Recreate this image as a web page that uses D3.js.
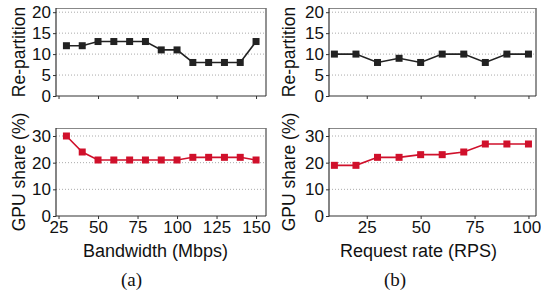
<!DOCTYPE html>
<html><head><meta charset="utf-8">
<script src="https://cdn.jsdelivr.net/npm/d3@7"></script>
<style>
body{margin:0;background:#fff;}
text{font-family:"Liberation Sans",Arial,sans-serif;}
</style></head>
<body><svg id="c" width="541" height="299"></svg>
<script>
// Data
const bandwidth = [30,40,50,60,70,80,90,100,110,120,130,140,150];
const bwRepartition = [12,12,13,13,13,13,11,11,8,8,8,8,13];
const bwGpuShare = [30,24,21,21,21,21,21,21,22,22,22,22,21];
const requestRate = [10,20,30,40,50,60,70,80,90,100];
const rrRepartition = [10,10,8,9,8,10,10,8,10,10];
const rrGpuShare = [19,19,22,22,23,23,24,27,27,27];
const bwTicks = [25,50,75,100,125,150];
const rrTicks = [25,50,75,100];
const repTicks = [0,5,10,15,20];
const gpuTicks = [0,10,20,30];

const svg = d3.select("#c");
const FS = 17;
const black = "#222", red = "#d0102b";

function panel(o){
  const g = svg.append("g");
  const x = d3.scaleLinear().domain(o.xdom).range([o.x0,o.x1]);
  const y = d3.scaleLinear().domain(o.ydom).range([o.y1,o.y0]);
  g.selectAll("line.grid").data(o.yticks.filter(d=>d>0)).enter().append("line")
    .attr("x1",o.x0).attr("x2",o.x1).attr("y1",d=>y(d)).attr("y2",d=>y(d))
    .attr("stroke","#aaa").attr("stroke-width",1).attr("stroke-dasharray","1,2");
  g.append("line").attr("x1",o.x0).attr("x2",o.x1).attr("y1",o.y0+0.5).attr("y2",o.y0+0.5)
    .attr("stroke","#888").attr("stroke-width",1);
  g.append("line").attr("x1",o.x1).attr("x2",o.x1).attr("y1",o.y0).attr("y2",o.y1)
    .attr("stroke","#777").attr("stroke-width",1.6);
  const ya = d3.axisLeft(y).tickValues(o.yticks).tickSize(3).tickPadding(2).tickFormat(d3.format("d"));
  const yg = g.append("g").attr("transform",`translate(${o.x0},0)`).call(ya);
  const xa = d3.axisBottom(x).tickValues(o.xticks).tickSize(3).tickPadding(2).tickFormat(o.xlabels? d3.format("d") : "");
  const xg = g.append("g").attr("transform",`translate(0,${o.y1})`).call(xa);
  [yg,xg].forEach(a=>{
    a.selectAll(".domain").remove();
    a.selectAll("line").attr("stroke","#333");
    a.selectAll("text").attr("font-size",FS).attr("fill","#111").attr("font-family","Liberation Sans, Arial, sans-serif");
  });
  if (o.lastDx) xg.selectAll(".tick:last-of-type text").attr("dx",o.lastDx);
  g.append("line").attr("x1",o.x0).attr("x2",o.x0).attr("y1",o.y0).attr("y2",o.y1+0.5).attr("stroke","#333").attr("stroke-width",1.2);
  g.append("line").attr("x1",o.x0).attr("x2",o.x1).attr("y1",o.y1).attr("y2",o.y1).attr("stroke","#333").attr("stroke-width",1.2);
  const pts = o.xs.map((v,i)=>[v,o.ys[i]]);
  g.append("path").datum(pts).attr("fill","none").attr("stroke",o.color).attr("stroke-width",1.6)
    .attr("d",d3.line().x(d=>x(d[0])).y(d=>y(d[1])));
  const s = 7;
  g.selectAll("rect.m").data(pts).enter().append("rect")
    .attr("x",d=>x(d[0])-s/2).attr("y",d=>y(d[1])-s/2).attr("width",s).attr("height",s)
    .attr("fill",o.color);
  svg.append("text").attr("transform",`translate(${o.ylx},${(o.y0+o.y1)/2}) rotate(-90)`)
    .attr("text-anchor","middle").attr("font-size",17.5).attr("fill","#111").text(o.ylabel);
}

const L = {x0:56,x1:266,xdom:[23.4,156.3]};
const R = {x0:329,x1:536,xdom:[7.5,103.5]};
const T = {y0:8,y1:96,ydom:[0,21]};
const B = {y0:128,y1:216,ydom:[0,33]};

panel({...L,...T,xs:bandwidth,ys:bwRepartition,color:black,xticks:bwTicks,xlabels:false,yticks:repTicks,ylabel:"Re-partition",ylx:25});
panel({...L,...B,xs:bandwidth,ys:bwGpuShare,color:red,xticks:bwTicks,xlabels:true,yticks:gpuTicks,ylabel:"GPU share (%)",ylx:25});
panel({...R,...T,xs:requestRate,ys:rrRepartition,color:black,xticks:rrTicks,xlabels:false,yticks:repTicks,ylabel:"Re-partition",ylx:295});
panel({...R,...B,xs:requestRate,ys:rrGpuShare,color:red,xticks:rrTicks,xlabels:true,yticks:gpuTicks,ylabel:"GPU share (%)",ylx:295,lastDx:-2});

svg.append("text").attr("x",155.5).attr("y",257).attr("text-anchor","middle").attr("font-size",18).attr("fill","#111").text("Bandwidth (Mbps)");
svg.append("text").attr("x",418.5).attr("y",257).attr("text-anchor","middle").attr("font-size",18).attr("fill","#111").text("Request rate (RPS)");
svg.append("text").attr("x",131.5).attr("y",286).attr("text-anchor","middle").attr("font-size",19).attr("fill","#111")
  .style("font-family","'Liberation Serif','DejaVu Serif',serif").text("(a)");
svg.append("text").attr("x",395).attr("y",286).attr("text-anchor","middle").attr("font-size",19).attr("fill","#111")
  .style("font-family","'Liberation Serif','DejaVu Serif',serif").text("(b)");
</script></body></html>
